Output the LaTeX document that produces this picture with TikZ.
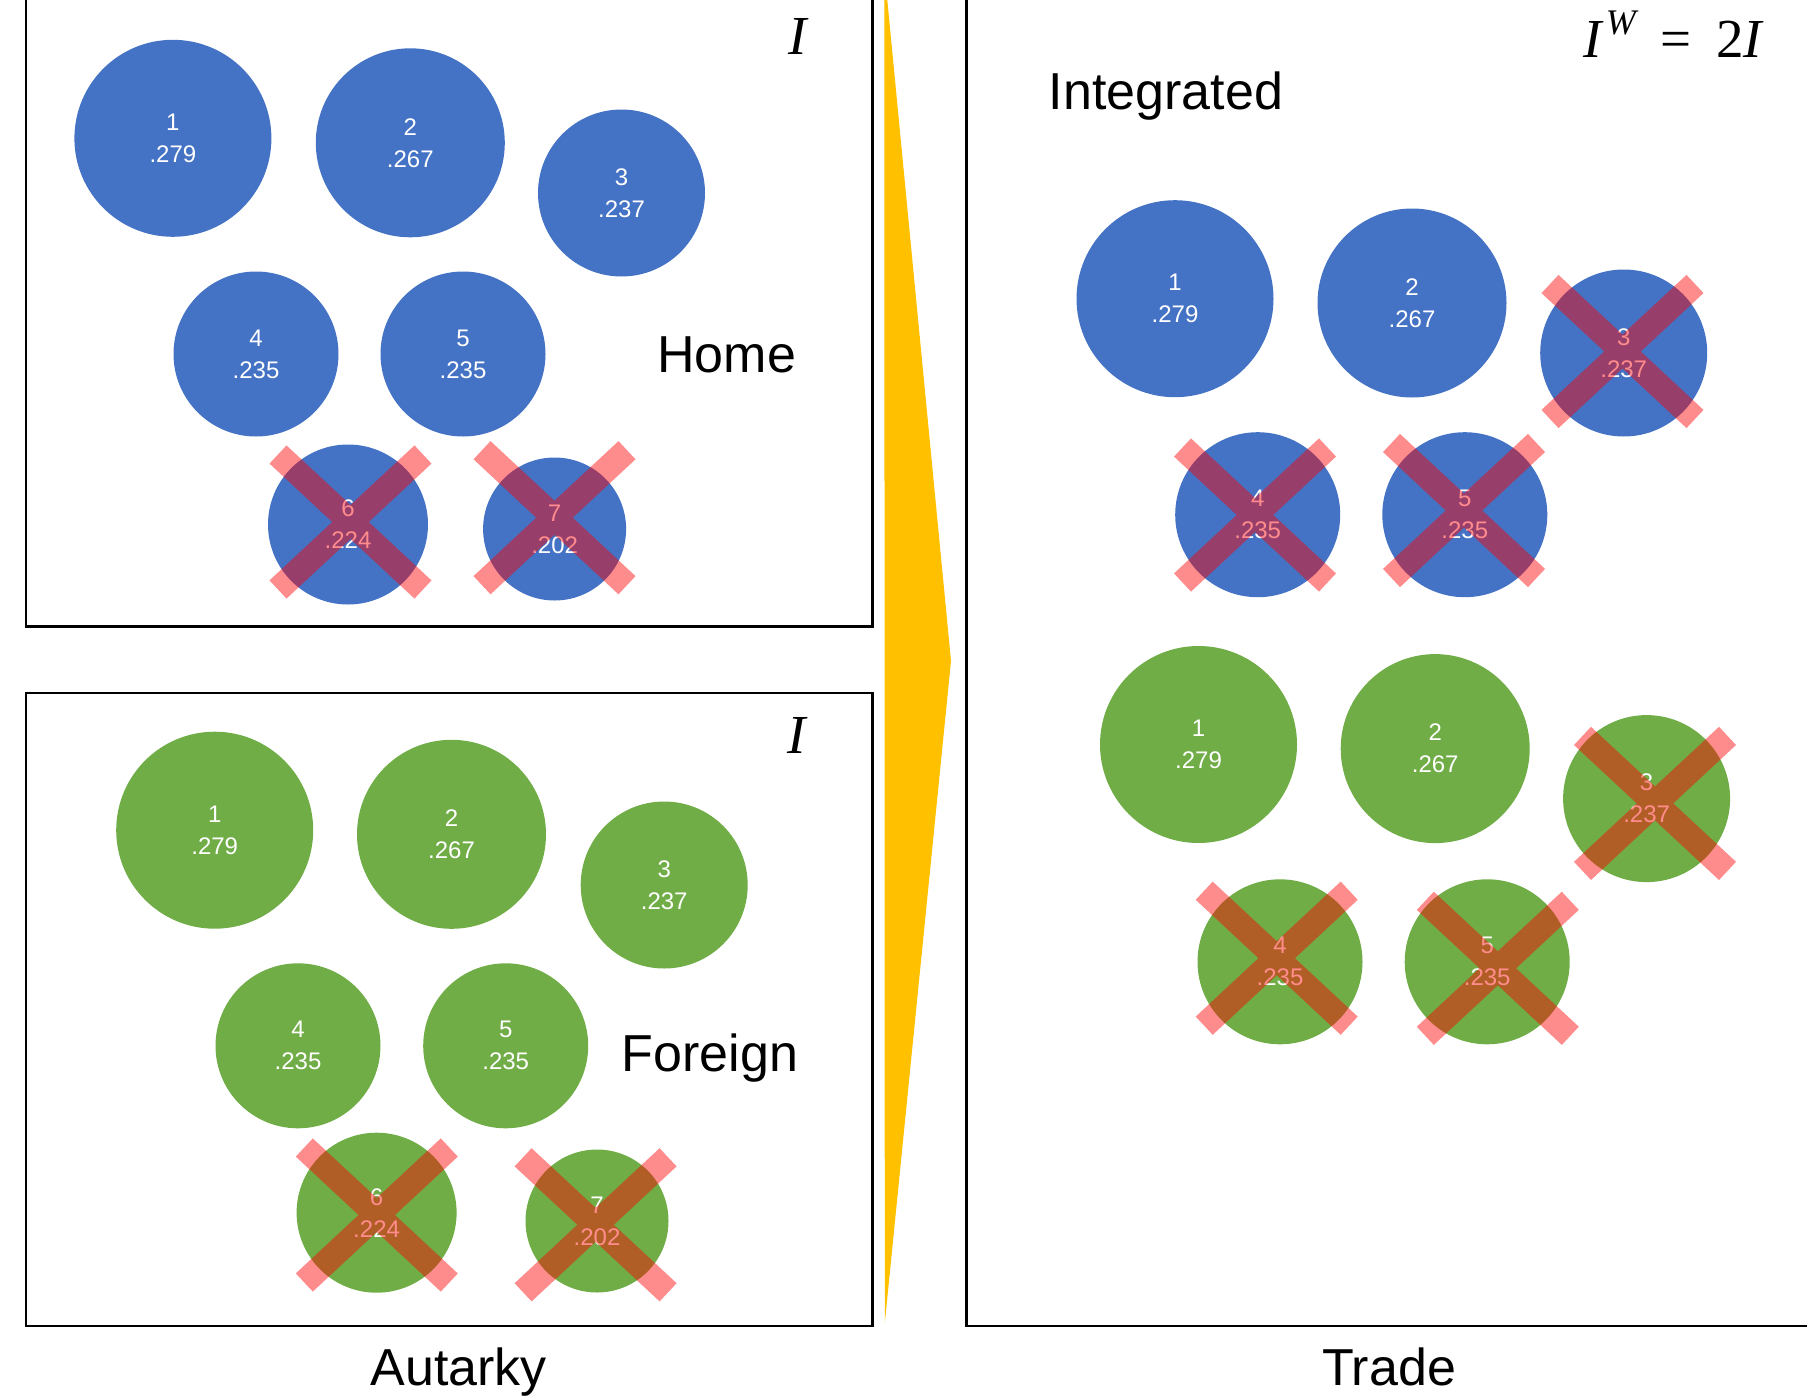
\documentclass[tikz,border=0pt]{standalone}
\usepackage{fontspec}
\setmainfont{Liberation Sans}
\newfontfamily\serifit{Liberation Serif}
\definecolor{cblue}{HTML}{4472C4}
\definecolor{cgreen}{HTML}{70AD47}
\definecolor{cyellow}{HTML}{FFC000}
\tikzset{
  firm/.style={circle, inner sep=0pt, minimum size=#1, text=white, align=center,
    font=\fontsize{24}{32}\selectfont},
  bfirm/.style={firm=#1, fill=cblue},
  gfirm/.style={firm=#1, fill=cgreen},
  lbl/.style={font=\fontsize{52}{60}\selectfont, anchor=base, inner sep=0pt},
  mlbl/.style={font=\fontsize{55}{60}\selectfont\serifit, anchor=base, inner sep=0pt},
  panel/.style={draw=black, line width=2.5pt},
  xcross/.pic={\fill[red, fill opacity=0.45]
     (-64,-76.6) -- (81,58.4) -- (64,76.6) -- (-81,-58.4) -- cycle
     (64,-76.6) -- (81,-58.4) -- (-64,76.6) -- (-81,58.4) -- cycle;}
}
\begin{document}
\begin{tikzpicture}[x=1pt, y=-1pt]
\useasboundingbox (0,0) rectangle (1807,1397);
\clip (0,0) rectangle (1807,1397);
% panels
\draw[panel] (25.8,-10) rectangle (872.4,626.5);
\draw[panel] (25.8,692.8) rectangle (872.4,1326);
\draw[panel] (966.7,-10) rectangle (1830,1326);
% yellow arrow
\fill[cyellow] (884.3,-31) -- (951,661) -- (884.8,1323) -- cycle;
% Home firms
\node[bfirm=197] (h1) at (172.9,138.3) {1\\.279};
\node[bfirm=189] (h2) at (410.3,142.8) {2\\.267};
\node[bfirm=167] (h3) at (621.5,193) {3\\.237};
\node[bfirm=165] (h4) at (256,354) {4\\.235};
\node[bfirm=165] (h5) at (463,354) {5\\.235};
\node[bfirm=160] (h6) at (348,524.5) {6\\.224};
\node[bfirm=143] (h7) at (554.6,529) {7\\.202};
% Foreign firms
\node[gfirm=197] (f1) at (214.7,830.2) {1\\.279};
\node[gfirm=189] (f2) at (451.5,834.3) {2\\.267};
\node[gfirm=167] (f3) at (664.2,885) {3\\.237};
\node[gfirm=165] (f4) at (298,1045.8) {4\\.235};
\node[gfirm=165] (f5) at (505.7,1045.8) {5\\.235};
\node[gfirm=160] (f6) at (376.6,1212.7) {6\\.224};
\node[gfirm=143] (f7) at (597,1221) {7\\.202};
% Trade, blue
\node[bfirm=197] (b1) at (1175,298.7) {1\\.279};
\node[bfirm=189] (b2) at (1412,303) {2\\.267};
\node[bfirm=167] (b3) at (1623.7,353) {3\\.237};
\node[bfirm=165] (b4) at (1257.7,514.7) {4\\.235};
\node[bfirm=165] (b5) at (1464.8,514.7) {5\\.235};
% Trade, green
\node[gfirm=197] (g1) at (1198.5,744.5) {1\\.279};
\node[gfirm=189] (g2) at (1435.2,748.6) {2\\.267};
\node[gfirm=167] (g3) at (1646.6,798.6) {3\\.237};
\node[gfirm=165] (g4) at (1280,961.8) {4\\.235};
\node[gfirm=165] (g5) at (1487.2,961.8) {5\\.235};
% crosses
\pic at (350.5,522) {xcross};
\pic at (554.5,517.7) {xcross};
\pic at (376.8,1215) {xcross};
\pic at (595.6,1224.8) {xcross};
\pic at (1622.5,351.5) {xcross};
\pic at (1255,515) {xcross};
\pic at (1464,510.5) {xcross};
\pic at (1655,803.4) {xcross};
\pic at (1276.7,958.2) {xcross};
\pic at (1497.8,968.3) {xcross};
% labels
\node[lbl] (home) at (726.7,372.7) {Home};
\node[lbl] (foreign) at (709.8,1071) {Foreign};
\node[lbl] (integrated) at (1166,110) {Integrated};
\node[lbl] (autarky) at (458.7,1385) {Autarky};
\node[lbl] (trade) at (1389,1385) {Trade};
\node[mlbl] (ih) at (797.5,55) {\itshape I};
\node[mlbl] (if) at (796.5,753.2) {\itshape I};
\node[mlbl, anchor=base west] (iw) at (1583,57.3)
  {\itshape I\hspace{0.08em}\raisebox{0.42em}{\fontsize{36}{40}\selectfont W}\hspace{0.45em}\upshape=\hspace{0.45em}2\itshape I};
\end{tikzpicture}
\end{document}
